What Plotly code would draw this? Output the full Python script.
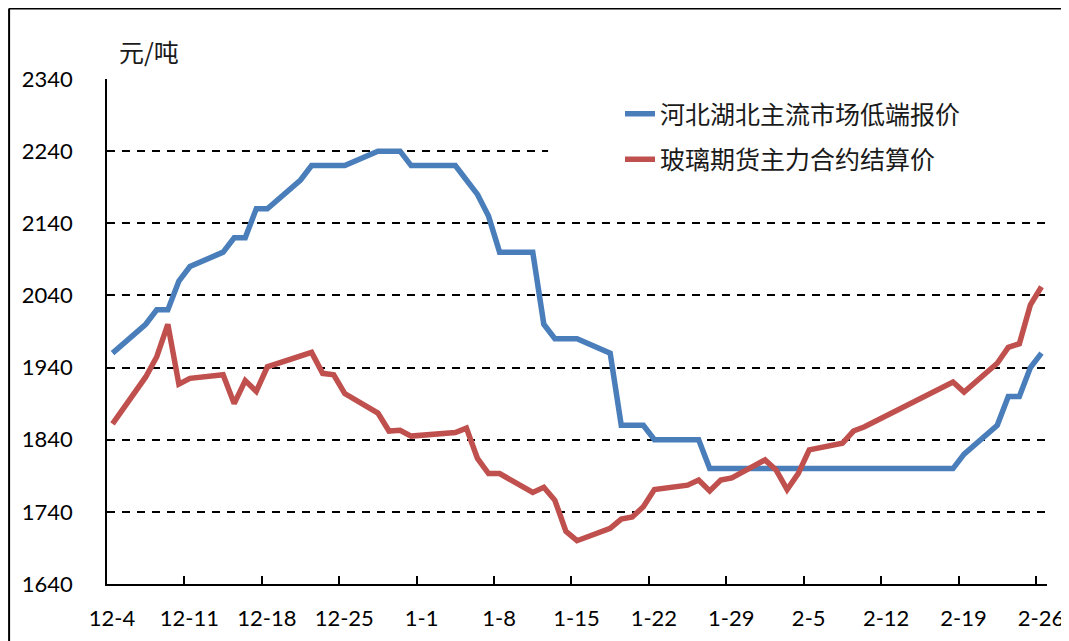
import pandas as pd
import plotly.graph_objects as go

# ---- data ----
dates = [
    "2015-12-04", "2015-12-07", "2015-12-08", "2015-12-09", "2015-12-10", "2015-12-11",
    "2015-12-14", "2015-12-15", "2015-12-16", "2015-12-17", "2015-12-18",
    "2015-12-21", "2015-12-22", "2015-12-23", "2015-12-24", "2015-12-25",
    "2015-12-28", "2015-12-29", "2015-12-30", "2015-12-31",
    "2016-01-04", "2016-01-05", "2016-01-06", "2016-01-07", "2016-01-08",
    "2016-01-11", "2016-01-12", "2016-01-13", "2016-01-14", "2016-01-15",
    "2016-01-18", "2016-01-19", "2016-01-20", "2016-01-21", "2016-01-22",
    "2016-01-25", "2016-01-26", "2016-01-27", "2016-01-28", "2016-01-29",
    "2016-02-01", "2016-02-02", "2016-02-03", "2016-02-04", "2016-02-05",
    "2016-02-08", "2016-02-09", "2016-02-10",
    "2016-02-18", "2016-02-19", "2016-02-22", "2016-02-23", "2016-02-24",
    "2016-02-25", "2016-02-26",
]

spot_price = [
    1960, 2000, 2020, 2020, 2060, 2080,
    2100, 2120, 2120, 2160, 2160,
    2200, 2220, 2220, 2220, 2220,
    2240, 2240, 2240, 2220,
    2220, 2200, 2180, 2150, 2100,
    2100, 2000, 1980, 1980, 1980,
    1960, 1860, 1860, 1860, 1840,
    1840, 1840, 1800, 1800, 1800,
    1800, 1800, 1800, 1800, 1800,
    1800, 1800, 1800,
    1800, 1820, 1860, 1900, 1900,
    1940, 1960,
]

futures_price = [
    1862, 1927, 1955, 2000, 1917, 1925,
    1930, 1890, 1922, 1907, 1941,
    1956, 1961, 1932, 1930, 1904,
    1877, 1852, 1853, 1845,
    1850, 1856, 1814, 1793, 1793,
    1767, 1774, 1756, 1713, 1700,
    1717, 1730, 1733, 1747, 1771,
    1777, 1784, 1769, 1784, 1787,
    1812, 1798, 1771, 1793, 1826,
    1835, 1852, 1858,
    1920, 1906, 1946, 1968, 1973,
    2027, 2052,
]

series_names = ["河北湖北主流市场低端报价", "玻璃期货主力合约结算价"]

tick_dates = [
    "2015-12-04", "2015-12-11", "2015-12-18", "2015-12-25", "2016-01-01",
    "2016-01-08", "2016-01-15", "2016-01-22", "2016-01-29", "2016-02-05",
    "2016-02-12", "2016-02-19", "2016-02-26",
]
tick_labels = ["12-4", "12-11", "12-18", "12-25", "1-1", "1-8", "1-15",
               "1-22", "1-29", "2-5", "2-12", "2-19", "2-26"]

y_ticks = [1640, 1740, 1840, 1940, 2040, 2140, 2240, 2340]

# Excel date axis: each point sits in the middle of its day slot
x = pd.to_datetime(dates) + pd.Timedelta(hours=12)

BLUE = "#4A7EBB"
RED = "#C0504D"
CJK = "Noto Sans CJK SC"
NUM = "Lato"

fig = go.Figure()
fig.add_trace(go.Scatter(x=x, y=spot_price, mode="lines", name=series_names[0],
                         legendgroup="a",
                         line=dict(color=BLUE, width=5.5)))
fig.add_trace(go.Scatter(x=x, y=futures_price, mode="lines", name=series_names[1],
                         legendgroup="b",
                         line=dict(color=RED, width=5.5)))

OFF = 8  # page body margin
W, H = 1069 - OFF, 641 - OFF
PLOT_L, PLOT_R, PLOT_T, PLOT_B = 106.5, 1047.4, 79, 584   # page pixels
L = PLOT_L - OFF
T = PLOT_T - OFF
R = W - (PLOT_R - OFF)
B = H - (PLOT_B - OFF)
pw = W - L - R
ph = H - T - B

def px(X):
    """page x pixel -> paper coordinate"""
    return (X - PLOT_L) / pw

def py(Y):
    """page y pixel -> paper coordinate"""
    return (PLOT_B - Y) / ph

fig.update_layout(
    width=W, height=H,
    margin=dict(l=L, r=R, t=T, b=B, autoexpand=False),
    paper_bgcolor="white", plot_bgcolor="white",
    showlegend=True,
    legend=dict(
        x=px(620), y=py(91), xanchor="left", yanchor="top",
        bgcolor="white", borderwidth=0,
        font=dict(family=CJK, size=25, color="#1a1a1a"),
        tracegroupgap=10,
        traceorder="grouped",
    ),
    xaxis=dict(
        type="date",
        range=["2015-12-04", "2016-02-27"],
        tickvals=pd.to_datetime(tick_dates), ticktext=tick_labels,
        ticks="inside", ticklen=8, tickwidth=1.5, tickcolor="black",
        showline=True, linecolor="black", linewidth=1.5,
        showgrid=False, zeroline=False,
        tickfont=dict(family=NUM, size=22, color="black"),
        ticklabelshift=5, ticklabelstandoff=14,
        ticklabeloverflow="allow",
    ),
    yaxis=dict(
        range=[1640, 2340],
        tickvals=y_ticks,
        ticks="",
        showline=True, linecolor="black", linewidth=1.5,
        showgrid=True, gridcolor="black", gridwidth=1.5, griddash="8px,7px",
        zeroline=False,
        tickfont=dict(family=NUM, size=22, color="black"),
        ticklabelstandoff=28,
    ),
    shapes=[
        # white legend backdrop hiding the grid line behind the legend
        dict(type="rect", xref="paper", yref="paper",
             x0=px(548), x1=1.0, y0=py(182), y1=py(90),
             fillcolor="white", line=dict(width=0), layer="above"),
        # outer chart border (top and left edges visible)
        dict(type="line", xref="paper", yref="paper",
             x0=px(8.5), x1=px(1069), y0=py(8.5), y1=py(8.5),
             line=dict(color="black", width=2), layer="above"),
        dict(type="line", xref="paper", yref="paper",
             x0=px(8.5), x1=px(8.5), y0=py(8.5), y1=py(641),
             line=dict(color="black", width=2), layer="above"),
    ],
    annotations=[
        dict(text="元/吨", xref="paper", yref="paper", x=px(117), y=py(51),
             xanchor="left", yanchor="middle", showarrow=False,
             font=dict(family=CJK, size=25, color="#1a1a1a")),
    ],
)

fig.write_html("out.html")
